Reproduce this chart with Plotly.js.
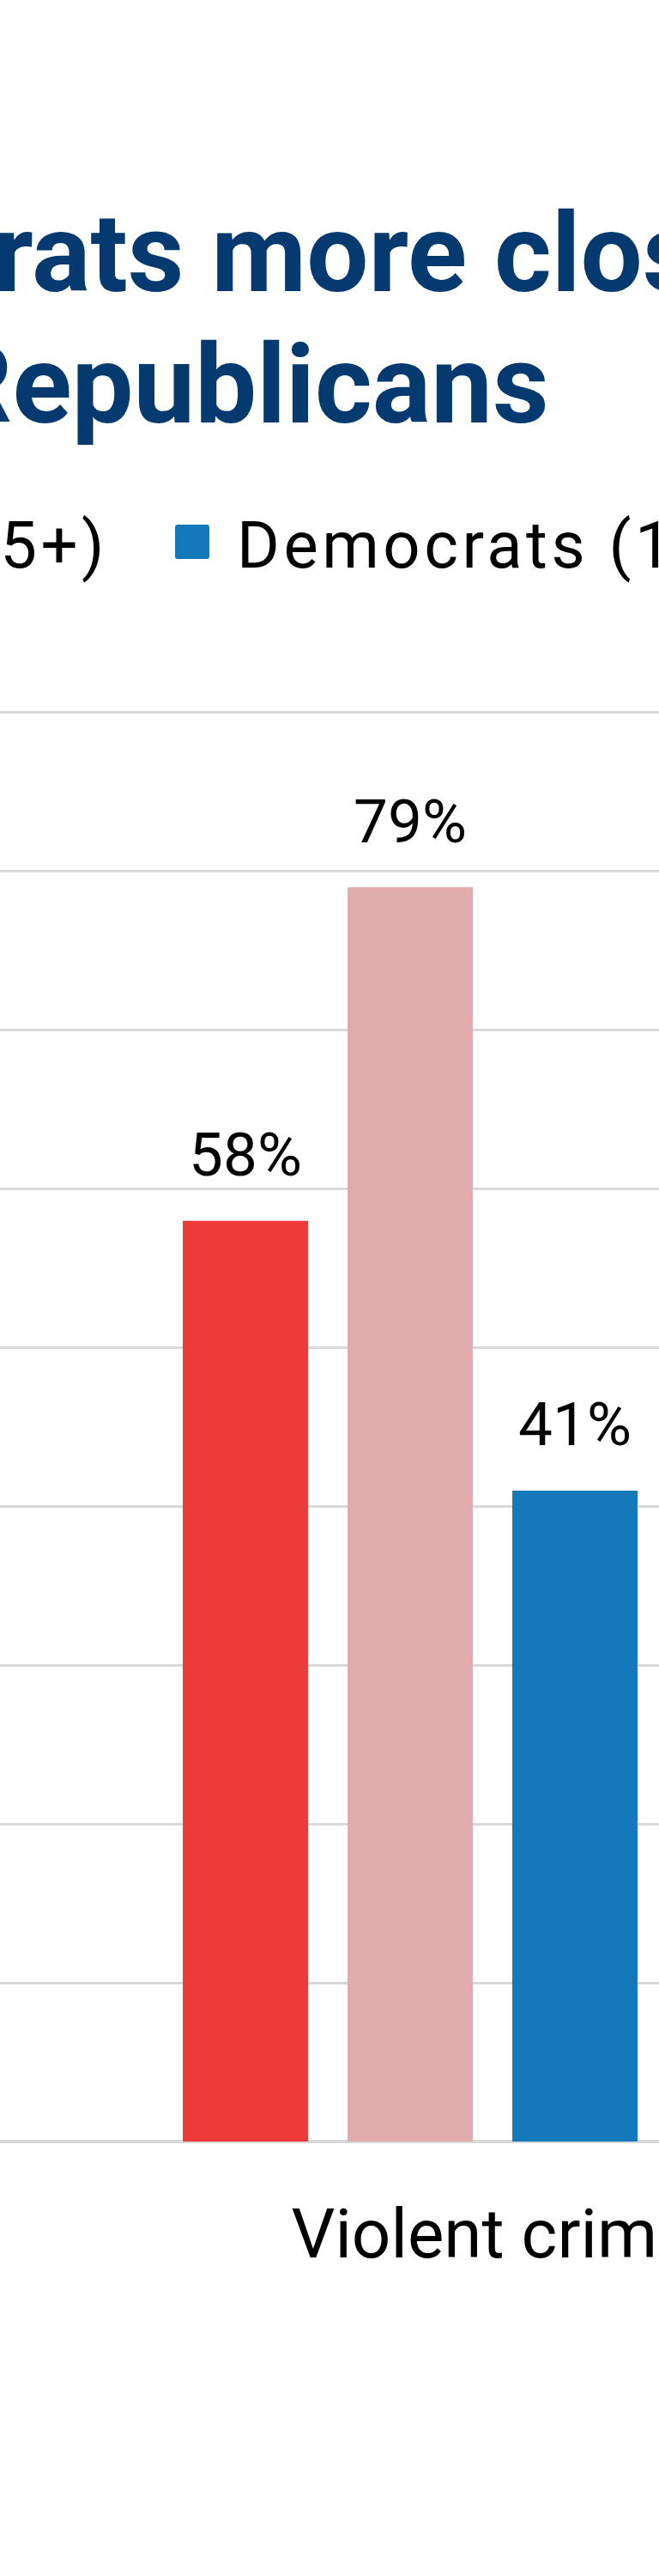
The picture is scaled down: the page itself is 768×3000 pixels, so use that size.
<!DOCTYPE html>
<html>
<head>
<meta charset="utf-8">
<script src="https://cdn.plot.ly/plotly-3.0.1.min.js"></script>
<style>
  html, body { margin: 0; padding: 0; background: #ffffff; }
  #wrap { position: relative; width: 768px; height: 3000px; overflow: hidden; background: #ffffff; }
  #chart { position: absolute; left: -1614px; top: 0; width: 3800px; height: 3000px; }
  #chart .legendtext { letter-spacing: 4.5px; }
</style>
</head>
<body>
<div id="wrap"><div id="chart"></div></div>
<script>
// ---- data ----
const categories = ['Violent crime'];
const seriesNames = ['Republicans (18-29)', 'Republicans (65+)', 'Democrats (18-29)', 'Democrats (65+)'];
const repYoung = [58];
const repOld = [79];
const demYoung = [41];
const demOld = [null]; // bar lies outside the visible crop; value not readable
const seriesColors = ['#ED3A36', '#E1AAAB', '#1479BB', '#8CBCE0'];
const titleLines = ['Democrats more closely', 'Republicans'];

const values = [repYoung, repOld, demYoung, demOld];

const traces = values.map((v, i) => ({
  type: 'bar',
  name: seriesNames[i],
  x: categories,
  y: v,
  marker: { color: seriesColors[i] },
  texttemplate: "<span style='font-size:71px'>%{y}</span><br>\u00A0",
  textposition: 'outside',
  constraintext: 'none',
  textfont: { family: 'Roboto, sans-serif', size: 32, color: '#000000' },
  cliponaxis: false,
  hoverinfo: 'skip'
}));

const W = 3800;
const layout = {
  width: W,
  height: 3000,
  paper_bgcolor: '#ffffff',
  plot_bgcolor: '#ffffff',
  margin: { l: 100, r: 100, t: 793, b: 506, pad: 0 },
  font: { family: 'Roboto, sans-serif', color: '#000000' },
  title: {
    text: titleLines.map(t => "<span style='font-size:128px'>" + t + "</span>").join('<br>'),
    font: { family: 'Roboto, sans-serif', size: 118, weight: 700, color: '#053A70' },
    xref: 'container', x: 0.5, xanchor: 'center',
    yref: 'container', y: 1 - 339 / 3000, yanchor: 'top'
  },
  barmode: 'group',
  bargap: 0.2,
  bargroupgap: 0.24,
  showlegend: true,
  legend: {
    orientation: 'h',
    xref: 'container', x: 106 / W, xanchor: 'left',
    yref: 'container', y: 1 - 575 / 3000, yanchor: 'top',
    itemwidth: 94,
    entrywidth: 731,
    font: { family: 'Roboto, sans-serif', size: 76, color: '#000000' },
    bgcolor: 'rgba(0,0,0,0)',
    traceorder: 'normal'
  },
  xaxis: {
    type: 'category',
    range: [-2088 / 960, -2088 / 960 + 3600 / 960],
    showgrid: false,
    zeroline: false,
    showline: false,
    ticks: '',
    ticklabelstandoff: 54,
    tickfont: { family: 'Roboto, sans-serif', size: 80, color: '#000000' },
    fixedrange: true
  },
  yaxis: {
    range: [0, 92],
    dtick: 10,
    tick0: 0,
    ticksuffix: '%',
    showgrid: true,
    gridcolor: '#D9D9D9',
    gridwidth: 3,
    zeroline: true,
    zerolinecolor: '#D9D9D9',
    zerolinewidth: 4,
    showline: false,
    ticks: '',
    tickfont: { family: 'Roboto, sans-serif', size: 60, color: '#000000' },
    fixedrange: true
  }
};

function enlargeLegendSymbols() {
  const d = 'M-17,-20H17A3,3 0 0 1 20,-17V17A3,3 0 0 1 17,20H-17A3,3 0 0 1 -20,17V-17A3,3 0 0 1 -17,-20Z';
  document.querySelectorAll('#chart .legendpoints path').forEach(p => {
    p.setAttribute('d', d);
    p.style.strokeWidth = '0px';
  });
}

Plotly.newPlot('chart', traces, layout, { displayModeBar: false, staticPlot: true }).then(gd => {
  enlargeLegendSymbols();
  gd.on && gd.on('plotly_afterplot', enlargeLegendSymbols);
});
</script>
</body>
</html>
